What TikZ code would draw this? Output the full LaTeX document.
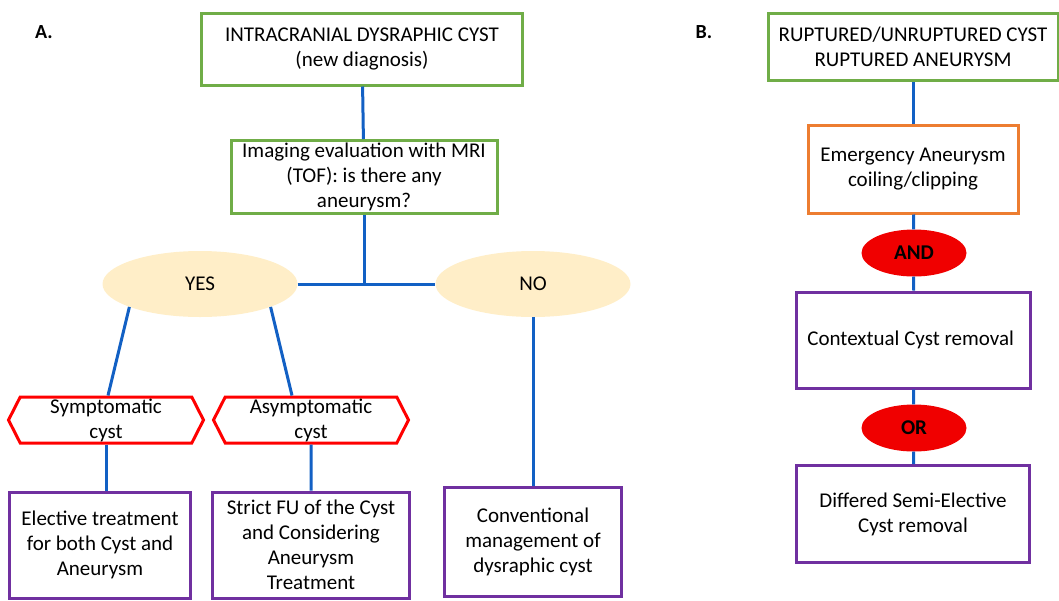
\documentclass[tikz,border=0pt]{standalone}
\usepackage{fontspec}
\setmainfont{Carlito}
\usetikzlibrary{shapes.geometric,shapes.symbols}

\definecolor{boxgreen}{RGB}{112,173,71}
\definecolor{boxpurple}{RGB}{112,48,160}
\definecolor{boxorange}{RGB}{237,125,49}
\definecolor{linkblue}{RGB}{18,96,196}
\definecolor{answer}{RGB}{255,238,200}
\definecolor{logicred}{RGB}{240,0,0}

\begin{document}
\begin{tikzpicture}[x=1pt, y=-1pt, font=\fontsize{21}{25}\selectfont,
	block/.style = { rectangle, draw, line width=3pt, fill=white,
	align=center, inner sep=0pt},
	greenblock/.style = { block, draw=boxgreen},
	purpleblock/.style = { block, draw=boxpurple},
	orangeblock/.style = { block, draw=boxorange},
	hexa/.style = { shape=signal, signal to=west and east,
	signal pointer angle=126, draw=red, line width=3pt, fill=white,
	align=center, inner sep=0pt, minimum width=195pt, minimum height=46pt},
	answer/.style = { ellipse, fill=answer, inner sep=0pt,
	minimum width=195pt, minimum height=66pt},
	logic/.style = { ellipse, fill=logicred, inner sep=0pt,
	minimum width=105pt, minimum height=47pt, font=\fontsize{21}{25}\selectfont\bfseries},
	link/.style = { draw=linkblue, line width=3pt} ]

  \useasboundingbox (0,0) rectangle (1059,600);

  % panel A
  \node [name=labelA, font=\fontsize{20}{25}\selectfont\bfseries] at (44,32) { A. };
  \node [name=cyst, greenblock, minimum width=321pt, minimum height=72pt]
	at (362,49) { INTRACRANIAL DYSRAPHIC CYST\\(new diagnosis) };
  \node [name=mri, greenblock, minimum width=266pt, minimum height=73pt]
	at (364,177) { Imaging evaluation with MRI\\(TOF): is there any\\aneurysm? };
  \node [name=yes, answer] at (200,284) { YES };
  \node [name=no, answer] at (533,284) { NO };
  \node [name=sym, hexa] at (106,420) { Symptomatic\\cyst };
  \node [name=asym, hexa] at (311,420) { Asymptomatic\\cyst };
  \node [name=elective, purpleblock, minimum width=181pt, minimum height=106pt]
	at (100,545) { Elective treatment\\for both Cyst and\\Aneurysm };
  \node [name=strict, purpleblock, minimum width=197pt, minimum height=106pt]
	at (311,545) { Strict FU of the Cyst\\and Considering\\Aneurysm\\Treatment };
  \node [name=conv, purpleblock, minimum width=177pt, minimum height=109pt]
	at (533,542) { Conventional\\management of\\dysraphic cyst };

  \draw [link] (cyst) -- (mri);
  \draw [link] (yes.east) -- (no.west);
  \draw [link] (mri.south) -- (mri.south |- yes.east);
  \draw [link] (yes.198) -- ([xshift=2pt]sym.north);
  \draw [link] (yes.342) -- ([xshift=-19pt]asym.north);
  \draw [link] (sym.south) -- (sym.south |- elective.north);
  \draw [link] (asym) -- (strict);
  \draw [link] (no) -- (conv);

  % panel B
  \node [name=labelB, font=\fontsize{20}{25}\selectfont\bfseries] at (704,32) { B. };
  \node [name=rupt, greenblock, minimum width=290pt, minimum height=67pt]
	at (913,47) { RUPTURED/UNRUPTURED CYST\\RUPTURED ANEURYSM };
  \node [name=emerg, orangeblock, minimum width=210pt, minimum height=88pt]
	at (913,169) { Emergency Aneurysm\\coiling/clipping };
  \node [name=and, logic] at (914,253) { AND };
  \node [name=context, purpleblock, minimum width=234pt, minimum height=96pt]
	at (913,340) { Contextual Cyst removal };
  \node [name=or, logic] at (914,428) { OR };
  \node [name=differed, purpleblock, minimum width=233pt, minimum height=97pt]
	at (913,514) { Differed Semi-Elective\\Cyst removal };

  \draw [link] (rupt) -- (emerg);
  \draw [link] (emerg) -- (and);
  \draw [link] (and) -- (context);
  \draw [link] (context) -- (or);
  \draw [link] (or) -- (differed);
\end{tikzpicture}
\end{document}
